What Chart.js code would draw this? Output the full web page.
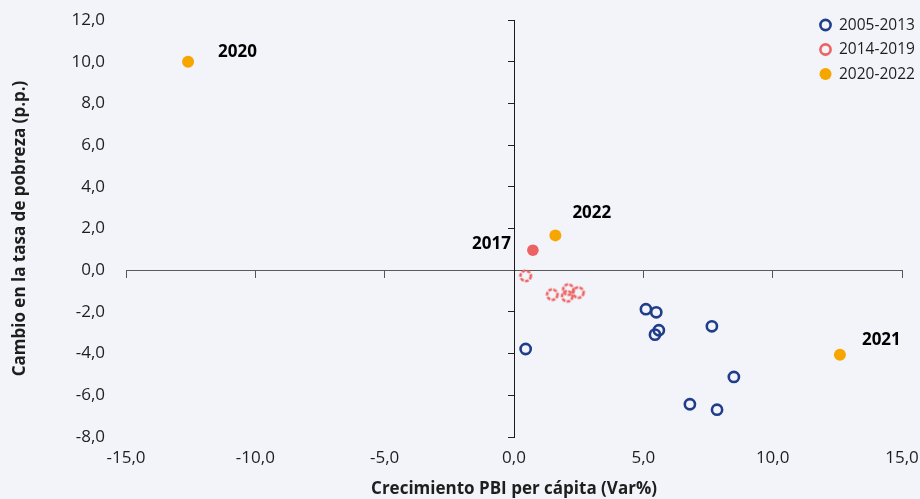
<!DOCTYPE html>
<html>
<head>
<meta charset="utf-8">
<script src="https://cdn.jsdelivr.net/npm/chart.js@4.4.1/dist/chart.umd.min.js"></script>
<style>
  html, body { margin: 0; padding: 0; background: #f3f4f9; }
  #wrap { width: 920px; height: 499px; position: relative; }
</style>
</head>
<body>
<div id="wrap"><canvas id="c"></canvas></div>
<script>
// ---------- DATA ----------
const seriesNames = ['2005-2013', '2014-2019', '2020-2022'];

// 2005-2013
const growth0513  = [0.45, 5.10, 5.50, 5.60, 5.45, 7.65, 8.50, 6.80, 7.85];
const poverty0513 = [-3.78, -1.87, -2.02, -2.88, -3.09, -2.69, -5.12, -6.43, -6.69];

// 2014-2019 (2017 highlighted)
const years1419   = ['', '', '', '2017', '', ''];
const growth1419  = [0.45, 1.48, 2.10, 0.73, 2.06, 2.49];
const poverty1419 = [-0.27, -1.17, -0.93, 0.96, -1.25, -1.07];

// 2020-2022
const years2022   = ['2020', '2021', '2022'];
const growth2022  = [-12.6, 12.6, 1.6];
const poverty2022 = [10.0, -4.05, 1.67];

// axis ticks
const xTickValues = [-15, -10, -5, 0, 5, 10, 15];
const yTickValues = [-8, -6, -4, -2, 0, 2, 4, 6, 8, 10, 12];

const xTitle = 'Crecimiento PBI per cápita (Var%)';
const yTitle = 'Cambio en la tasa de pobreza (p.p.)';

// ---------- STYLES ----------
const NAVY = '#1f3d8a';
const RED = '#ec6363';
const ORANGE = '#f7a600';
const TEXT = '#1e1e1e';
const FONT = "'Open Sans', 'Noto Sans', sans-serif";

// label placement (pixel offsets from point)
const labelPlacement = {
  '2020': { dx: 30, dy: -10, align: 'left' },
  '2021': { dx: 22, dy: -14, align: 'left' },
  '2022': { dx: 17, dy: -22, align: 'left' },
  '2017': { dx: -22, dy: -6, align: 'right' }
};

function dashedRing(color) {
  const c = document.createElement('canvas');
  c.width = 16; c.height = 16;
  const g = c.getContext('2d');
  g.strokeStyle = color;
  g.lineWidth = 2.6;
  g.setLineDash([3.6, 1.4]);
  g.beginPath();
  g.arc(8, 8, 5.2, 0, Math.PI * 2);
  g.stroke();
  return c;
}
const dashedRed = dashedRing(RED);

const fmt = v => v.toFixed(1).replace('.', ',');

function toPoints(xs, ys) { return xs.map((x, i) => ({ x: x, y: ys[i] })); }

const datasets = [
  {
    label: seriesNames[0],
    data: toPoints(growth0513, poverty0513),
    pointStyle: 'circle',
    pointRadius: 5.1,
    pointBorderWidth: 2.6,
    borderColor: NAVY,
    backgroundColor: 'rgba(0,0,0,0)',
    legendStyle: 'ring'
  },
  {
    label: seriesNames[1],
    data: toPoints(growth1419, poverty1419),
    pointStyle: years1419.map(y => y ? 'circle' : dashedRed),
    pointRadius: years1419.map(y => y ? 5.8 : 6),
    pointBorderWidth: 0,
    borderColor: RED,
    backgroundColor: RED,
    pointLabels: years1419,
    legendStyle: 'ring'
  },
  {
    label: seriesNames[2],
    data: toPoints(growth2022, poverty2022),
    pointStyle: 'circle',
    pointRadius: 6,
    pointBorderWidth: 0,
    borderColor: ORANGE,
    backgroundColor: ORANGE,
    pointLabels: years2022,
    legendStyle: 'dot'
  }
];

// draws the text labels next to points, using element positions from Chart.js
const pointLabelPlugin = {
  id: 'pointLabels',
  afterDatasetsDraw(chart) {
    const ctx = chart.ctx;
    ctx.save();
    ctx.font = "bold 17px " + FONT;
    ctx.fillStyle = '#000';
    ctx.textBaseline = 'middle';
    chart.data.datasets.forEach((ds, di) => {
      if (!ds.pointLabels) return;
      const meta = chart.getDatasetMeta(di);
      ds.pointLabels.forEach((t, i) => {
        if (!t) return;
        const p = labelPlacement[t] || { dx: 10, dy: -10, align: 'left' };
        const el = meta.data[i];
        ctx.textAlign = p.align;
        ctx.fillText(t, el.x + p.dx, el.y + p.dy);
      });
    });
    ctx.restore();
  }
};

// legend inside chart area, top right
const cornerLegendPlugin = {
  id: 'cornerLegend',
  afterDraw(chart) {
    const ctx = chart.ctx;
    const x0 = chart.width - 94.5;
    const rows = [25, 49.5, 74];
    ctx.save();
    ctx.font = "15.5px " + FONT;
    ctx.textBaseline = 'middle';
    ctx.textAlign = 'left';
    chart.data.datasets.forEach((ds, i) => {
      const y = rows[i];
      ctx.beginPath();
      if (ds.legendStyle === 'ring') {
        ctx.arc(x0, y, 5.1, 0, Math.PI * 2);
        ctx.lineWidth = 2.6;
        ctx.strokeStyle = ds.borderColor;
        ctx.stroke();
      } else {
        ctx.arc(x0, y, 6, 0, Math.PI * 2);
        ctx.fillStyle = ds.backgroundColor;
        ctx.fill();
      }
      ctx.fillStyle = TEXT;
      ctx.fillText(ds.label, x0 + 13.5, y + 0.5);
    });
    ctx.restore();
  }
};

const noPad = s => { s.paddingTop = 0; s.paddingBottom = 0; s.paddingLeft = 0; s.paddingRight = 0; };

new Chart(document.getElementById('c'), {
  type: 'scatter',
  data: { datasets: datasets },
  plugins: [pointLabelPlugin, cornerLegendPlugin],
  options: {
    responsive: true,
    maintainAspectRatio: false,
    animation: false,
    events: [],
    layout: { padding: { left: 0, right: 18, top: 20, bottom: 0 } },
    plugins: {
      legend: { display: false },
      tooltip: { enabled: false }
    },
    scales: {
      x: {
        type: 'linear',
        position: 'bottom',
        min: -15, max: 15,
        afterBuildTicks: s => { s.ticks = xTickValues.map(v => ({ value: v })); },
        ticks: { callback: v => fmt(v), color: TEXT, font: { family: FONT, size: 17 }, padding: 11, maxRotation: 0 },
        grid: { display: false, drawTicks: false },
        border: { display: false },
        title: { display: true, text: xTitle, color: TEXT, font: { family: FONT, size: 17, weight: 'bold' }, padding: { top: 0, bottom: 0 } },
        afterFit: s => { s.height = 62; noPad(s); }
      },
      y: {
        type: 'linear',
        position: 'left',
        min: -8, max: 12,
        afterBuildTicks: s => { s.ticks = yTickValues.map(v => ({ value: v })); },
        ticks: { callback: v => fmt(v), color: TEXT, font: { family: FONT, size: 17 }, padding: 21 },
        grid: { display: false, drawTicks: false },
        border: { display: false },
        title: { display: true, text: yTitle, color: TEXT, font: { family: FONT, size: 17, weight: 'bold' }, padding: { top: 10, bottom: 0 } },
        afterFit: s => { s.width = 126; noPad(s); }
      },
      xZero: {
        type: 'linear',
        axis: 'x',
        position: { y: 0 },
        min: -15, max: 15,
        afterBuildTicks: s => { s.ticks = xTickValues.map(v => ({ value: v })); },
        ticks: { display: false },
        grid: { drawOnChartArea: false, drawTicks: true, tickLength: 7, color: '#555', lineWidth: 1 },
        border: { display: true, color: '#5a5a5a', width: 1 },
        afterFit: noPad
      },
      yZero: {
        type: 'linear',
        axis: 'y',
        position: { x: 0 },
        min: -8, max: 12,
        afterBuildTicks: s => { s.ticks = yTickValues.map(v => ({ value: v })); },
        ticks: { display: false },
        grid: { drawOnChartArea: false, drawTicks: true, tickLength: 6, color: '#222', lineWidth: 1 },
        border: { display: true, color: '#1a1a1a', width: 1 },
        afterFit: noPad
      }
    }
  }
});
</script>
</body>
</html>
